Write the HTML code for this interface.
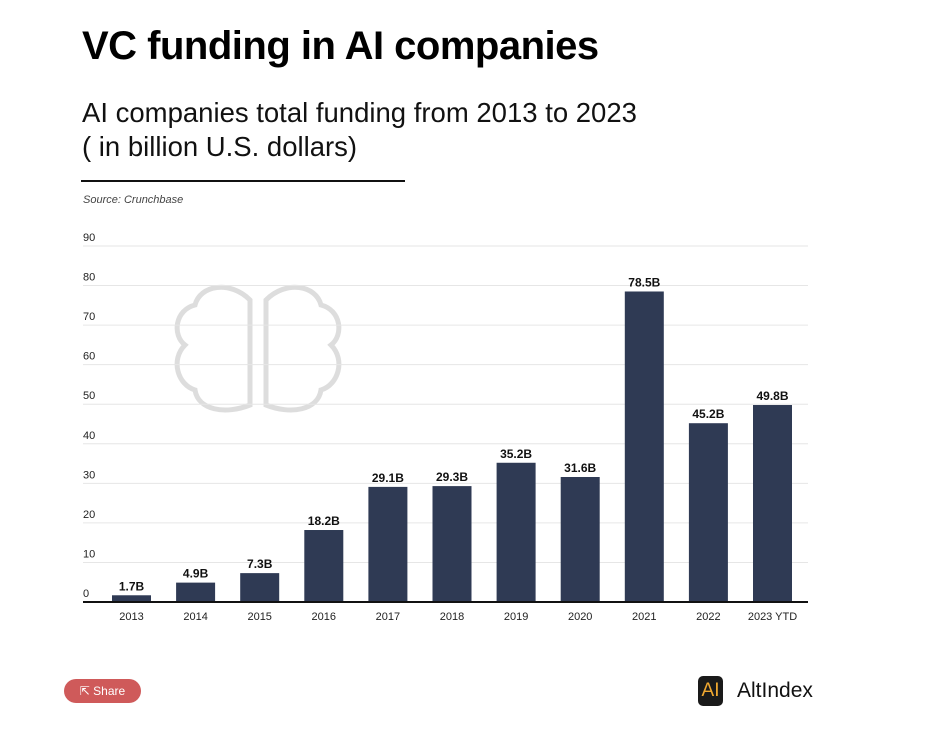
<!DOCTYPE html>
<html><head><meta charset="utf-8"><style>
body{margin:0;width:945px;height:735px;background:#fff;font-family:"Liberation Sans",sans-serif;position:relative;overflow:hidden}
.t{position:absolute;white-space:nowrap}
</style></head><body>
<div class="t" style="left:82px;top:24px;font-size:40px;font-weight:bold;color:#000;letter-spacing:-0.5px">VC funding in AI companies</div>
<div class="t" style="left:82px;top:96px;font-size:27.5px;color:#111;line-height:34px">AI companies total funding from 2013 to 2023<br>( in billion U.S. dollars)</div>
<div style="position:absolute;left:81px;top:180px;width:324px;height:2px;background:#111"></div>
<div class="t" style="left:83px;top:194px;font-size:11px;font-style:italic;color:#444">Source: Crunchbase</div>
<svg id="chart" width="945" height="735" style="position:absolute;left:0;top:0">
<g fill="none" stroke="#ddd" stroke-width="5">
<path d="M250 300 C230 280 200 285 195 305 C175 310 172 335 185 345 C170 360 178 385 195 390 C198 410 225 415 250 405 Z"/>
<path d="M266 300 C286 280 316 285 321 305 C341 310 344 335 331 345 C346 360 338 385 321 390 C318 410 291 415 266 405 Z"/>
</g>
</svg>
<div style="position:absolute;left:64px;top:679px;width:77px;height:24px;border-radius:12px;background:#cf5a5a;color:#fff;font-size:12px;line-height:24px;text-align:center">&#x21F1; Share</div>
<div style="position:absolute;left:698px;top:676px;width:25px;height:30px;border-radius:5px;background:#1a1a1a;color:#f0a830;font-size:19px;line-height:30px;text-align:center">AI</div>
<div class="t" style="left:737px;top:679px;font-size:21px;color:#111">AltIndex</div>
<script>
const categories=["2013","2014","2015","2016","2017","2018","2019","2020","2021","2022","2023 YTD"];
const values=[1.7,4.9,7.3,18.2,29.1,29.3,35.2,31.6,78.5,45.2,49.8];
const valueLabels=["1.7B","4.9B","7.3B","18.2B","29.1B","29.3B","35.2B","31.6B","78.5B","45.2B","49.8B"];
const yTicks=[0,10,20,30,40,50,60,70,80,90];
const svg=document.getElementById('chart');
const NS='http://www.w3.org/2000/svg';
const y0=602,y90=246,x0=83,x1=808,first=131.5,step=64.1,bw=39;
const y=v=>y0-(v/90)*(y0-y90);
const x=i=>first+i*step;
function mk(t,a){const e=document.createElementNS(NS,t);for(const k in a)e.setAttribute(k,a[k]);svg.appendChild(e);return e;}
yTicks.forEach(v=>{
 if(v>0){const l=mk('line',{x1:x0,x2:x1,y1:y(v),y2:y(v),stroke:'#e6e6e6','stroke-width':1});
 
 }
 const t=mk('text',{x:x0,y:y(v)-5,'font-size':11,fill:'#222','font-family':'Liberation Sans'});t.textContent=v;
 
 
});
values.forEach((v,i)=>{
 const r=mk('rect',{x:x(i)-bw/2,y:y(v),width:bw,height:y0-y(v),fill:'#2f3a54'});
 
 
 const t=mk('text',{x:x(i),y:y(v)-5,'font-size':12,'font-weight':'bold',fill:'#111','text-anchor':'middle','font-family':'Liberation Sans'});t.textContent=valueLabels[i];
 
 
 const c=mk('text',{x:x(i),y:620,'font-size':11,fill:'#222','text-anchor':'middle','font-family':'Liberation Sans'});c.textContent=categories[i];
 
 
});
const ax=mk('line',{x1:x0,x2:x1,y1:y0,y2:y0,stroke:'#111','stroke-width':2});


</script>
</body></html>
